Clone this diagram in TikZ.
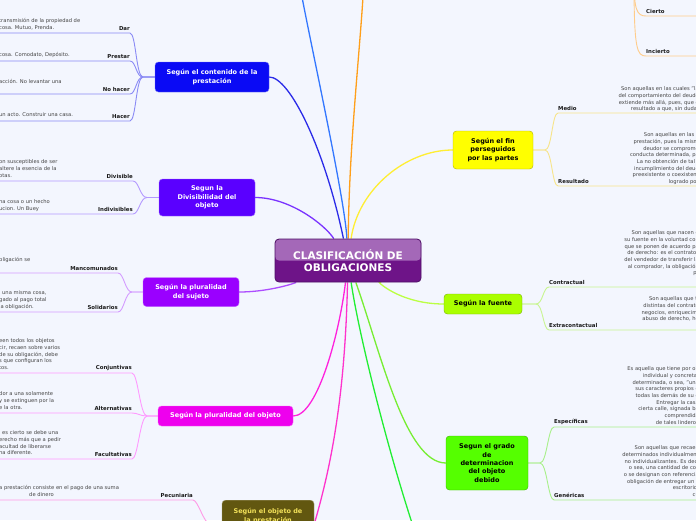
\documentclass[tikz,border=0pt]{standalone}
\usepackage{fontspec}
\setmainfont{DejaVu Sans}
\usetikzlibrary{backgrounds}

\definecolor{bgpage}{HTML}{F3F6FE}
\definecolor{notegray}{HTML}{444444}
\definecolor{labelink}{HTML}{1A1A1A}
\definecolor{cenLight}{HTML}{A468B8}
\definecolor{cenDark}{HTML}{6E1488}
\definecolor{cenEdge}{HTML}{4E1066}
\definecolor{contFill}{HTML}{0A0AF5}
\definecolor{contLine}{HTML}{2B2BE8}
\definecolor{contSub}{HTML}{8A8AF5}
\definecolor{divFill}{HTML}{5A00FF}
\definecolor{divLine}{HTML}{7A33FF}
\definecolor{divSub}{HTML}{B399FF}
\definecolor{sujFill}{HTML}{9A00FF}
\definecolor{sujLine}{HTML}{AD4DFF}
\definecolor{sujSub}{HTML}{D49CFF}
\definecolor{objFill}{HTML}{EE00EE}
\definecolor{objLine}{HTML}{FF22DD}
\definecolor{objSub}{HTML}{FF99FF}
\definecolor{presFill}{HTML}{625710}
\definecolor{presText}{HTML}{F3E25A}
\definecolor{presLine}{HTML}{FF33CC}
\definecolor{presSub}{HTML}{FF99E6}
\definecolor{finFill}{HTML}{FFFF00}
\definecolor{finLine}{HTML}{FFEE33}
\definecolor{finSub}{HTML}{F7E48A}
\definecolor{fntFill}{HTML}{AAFF00}
\definecolor{fntLine}{HTML}{BBFF44}
\definecolor{fntSub}{HTML}{C8F590}
\definecolor{grdFill}{HTML}{55FF00}
\definecolor{grdLine}{HTML}{77EE33}
\definecolor{grdSub}{HTML}{A8F08A}
\definecolor{topBlue}{HTML}{3377FF}
\definecolor{topOrange}{HTML}{FF9F1A}
\definecolor{orgSub}{HTML}{FFCC8A}
\definecolor{botGreen}{HTML}{22EE33}

\begin{document}
\begin{tikzpicture}[x=1pt, y=-1pt,
    every node/.style={inner sep=0pt},
    central/.style={draw=cenEdge, line width=0.8pt, fill=cenDark, rounded corners=4pt, align=center,
        minimum width=146pt, minimum height=43pt, text=white, font=\fontsize{10.5}{12}\selectfont\bfseries,
        path picture={\fill[cenLight] (path picture bounding box.north west) rectangle (path picture bounding box.east);}},
    topic/.style={rounded corners=3.5pt, align=center, text=white, font=\fontsize{6.5}{8.6}\selectfont\bfseries},
    leafL/.style={anchor=south east, align=right, inner xsep=0pt, inner ysep=1.8pt, text=labelink, font=\fontsize{5.4}{6.5}\selectfont\bfseries},
    leafR/.style={anchor=south west, align=left, inner xsep=0pt, inner ysep=1.8pt, text=labelink, font=\fontsize{5.4}{6.5}\selectfont\bfseries},
    noteL/.style={anchor=north west, align=left, text=notegray, font=\fontsize{5.2}{6.7}\selectfont},
    noteR/.style={anchor=north east, align=right, text=notegray, font=\fontsize{5.2}{6.7}\selectfont},
    mainline/.style={line width=1.3pt},
    subline/.style={line width=0.9pt}
]
\useasboundingbox (0,0) rectangle (696,520);

% centre
\node[central] (cen) at (348,260.5) {CLASIFICACIÓN DE\\OBLIGACIONES};

% topics on the left
\node[topic, fill=contFill, draw=contFill!60!white, minimum width=114pt, minimum height=30pt] (cont) at (212,77) {Según el contenido de la\\prestación};
\node[topic, fill=divFill, draw=divFill!60!white, minimum width=96pt, minimum height=37pt] (div) at (207,197.5) {Segun la\\Divisibilidad del\\objeto};
\node[topic, fill=sujFill, draw=sujFill!60!white, minimum width=96pt, minimum height=29pt] (suj) at (191,292) {Según la pluralidad\\del sujeto};
\node[topic, fill=objFill, draw=objFill!60!white, minimum width=135pt, minimum height=20pt] (obj) at (225.5,416) {Según la pluralidad del objeto};
\node[topic, fill=presFill, draw=presFill!60!white, text=presText, minimum width=92pt, minimum height=48pt, anchor=north] (pres) at (268,500) {Según el objeto de\\la prestación\\\mbox{}\\\mbox{}};

% topics on the right
\node[topic, fill=finFill, draw=finFill!70!black, text=black, minimum width=80pt, minimum height=38pt] (fin) at (493,150) {Según el fin\\perseguidos\\por las partes};
\node[topic, fill=fntFill, draw=fntFill!70!black, text=black, minimum width=78pt, minimum height=20pt] (fnt) at (483,304) {Según la fuente};
\node[topic, fill=grdFill, draw=grdFill!70!black, text=black, minimum width=82pt, minimum height=54pt, font=\fontsize{6.5}{8.3}\selectfont\bfseries] (grd) at (487,463) {Segun el grado\\de\\determinacion\\del objeto\\debido};

% branch points and loose ends
\coordinate (bCont) at (143,77);
\coordinate (bDiv) at (147,197.5);
\coordinate (bSuj) at (132,292);
\coordinate (bObj) at (147,416);
\coordinate (bPres) at (210,524);
\coordinate (bFin) at (545,150);
\coordinate (bFnt) at (536,304);
\coordinate (bGrd) at (540,463);
\coordinate (bOrg) at (634,-20);
\coordinate (upBlue) at (302,-3);
\coordinate (upOrange) at (363,-3);
\coordinate (downGreen) at (412,523);

% leaves: contenido
\node[leafL, text width=132pt] (dar) at (130,33) {Dar};
\node[leafL, text width=132pt] (prestar) at (130,61) {Prestar};
\node[leafL, text width=132pt] (nohacer) at (130,94) {No hacer};
\node[leafL, text width=132pt] (hacer) at (130,121) {Hacer};
\node[noteL] (darN) at (-1,18.5) {transmisión de la propiedad de\\cosa. Mutuo, Prenda.};
\node[noteL] (prestarN) at (-1,52.5) {cosa. Comodato, Depósito.};
\node[noteL] (nohacerN) at (-1,79.5) {acción. No levantar una};
\node[noteL] (hacerN) at (-1,112.5) {un acto. Construir una casa.};

% leaves: divisibilidad
\node[leafL, text width=135pt] (divisible) at (133,181) {Divisible};
\node[leafL, text width=135pt] (indivisibles) at (133,214) {Indivisibles};
\node[noteL] (divisibleN) at (-1,159.5) {on susceptibles de ser\\altere la esencia de la\\otas.};
\node[noteL] (indivisiblesN) at (-1,199.5) {na cosa o un hecho\\ucion. Un Buey};

% leaves: sujeto
\node[leafL, text width=120pt] (mancom) at (118,273) {Mancomunados};
\node[leafL, text width=120pt] (solid) at (118,312) {Solidarios};
\node[noteL] (mancomN) at (-1,257) {bligación se};
\node[noteL] (solidN) at (-1,290.5) {\hspace*{3pt}una misma cosa,\\gado al pago total\\la obligación.};

% leaves: objeto
\node[leafL, text width=134pt] (conj) at (132,373) {Conjuntivas};
\node[leafL, text width=134pt] (alter) at (132,413) {Alternativas};
\node[leafL, text width=134pt] (facul) at (132,459) {Facultativas};
\node[noteL] (conjN) at (-1,338.5) {een todos los objetos\\cir, recaen sobre varios\\de su obligación, debe\\s que configuran los\\tos.};
\node[noteL] (alterN) at (-1,391.5) {dor a una solamente\\y se extinguen por la\\e la otra.};
\node[noteL] (faculN) at (-1,430.5) {\hspace*{3pt}es cierto se debe una\\erecho más que a pedir\\acultad de liberarse\\na diferente.};

% leaves: objeto de la prestacion
\node[leafL, text width=195pt] (pecun) at (193,500) {Pecuniaria};
\node[noteL] (pecunN) at (-1,485.5) {a prestación consiste en el pago de una suma\\\hspace*{30pt}de dinero};

% leaves: fin
\node[leafR, text width=140pt] (medio) at (558,113) {Medio};
\node[leafR, text width=140pt] (resul) at (558,186) {Resultado};
\node[noteR] (medioN) at (699,86.5) {Son aquellas en las cuales "la\\del comportamiento del deudo\\extiende más allá, pues, que e\\resultado a que, sin duda,};
\node[noteR] (resulN) at (699,132.5) {Son aquellas en las c\\prestación, pues la mism\\deudor se comprome\\conducta determinada, pa\\La no obtención de tal r\\incumplimiento del deud\\preexistente o coexistent\\logrado por};

% leaves: fuente
\node[leafR, text width=150pt] (contr) at (549,287) {Contractual};
\node[leafR, text width=150pt] (extra) at (549,330) {Extracontactual};
\node[noteR] (contrN) at (699,230.5) {Son aquellas que nacen d\\su fuente en la voluntad con\\que se ponen de acuerdo pa\\de derecho: es el contrato"\\del vendedor de transferir la\\al comprador, la obligación\\pr};
\node[noteR] (extraN) at (699,296.5) {Son aquellas que ti\\distintas del contrato\\negocios, enriquecimi\\abuso de derecho, he};

% leaves: grado
\node[leafR, text width=145pt] (espec) at (554,427) {Específicas};
\node[leafR, text width=145pt] (gener) at (554,500) {Genéricas};
\node[noteR] (especN) at (699,366.5) {Es aquella que tiene por ob\\individual y concreta,\\determinada, o sea, "una\\sus caracteres propios q\\todas las demás de su e\\Entregar la casa\\cierta calle, signada ba\\comprendida\\de tales linderos};
\node[noteR] (generN) at (699,445.5) {Son aquellas que recaen\\determinados individualment\\no individualizantes. Es deci\\o sea, una cantidad de cos\\o se designan con referencia\\obligación de entregar un c\\escritorio,\\cu};

% leaves: upper right
\node[leafR, text width=60pt] (cierto) at (646,16) {Cierto};
\node[leafR, text width=60pt] (incierto) at (646,56) {Incierto};

\begin{pgfonlayer}{background}
\fill[bgpage] (0,0) rectangle (696,520);

% centre to topics
\draw[mainline, topBlue] (cen) .. controls (345,200) and (312,50) .. (upBlue);
\draw[mainline, topOrange] (cen) .. controls (349,150) and (359,60) .. (upOrange);
\draw[mainline, contLine] (cont.east) .. controls (290,77) and (325,150) .. (cen);
\draw[mainline, divLine] (div.east) .. controls (290,197.5) and (325,225) .. (cen);
\draw[mainline, sujLine] (suj.east) .. controls (265,292) and (290,285) .. (cen);
\draw[mainline, objLine] (obj.east) .. controls (318,416) and (340,330) .. (cen);
\draw[mainline, presLine] (cen) .. controls (345,400) and (330,470) .. (pres.east);
\draw[mainline, finLine] (cen) .. controls (358,190) and (405,150) .. (fin.west);
\draw[mainline, fntLine] (cen) .. controls (370,275) and (395,304) .. (fnt.west);
\draw[mainline, grdLine] (cen) .. controls (380,350) and (405,463) .. (grd.west);
\draw[mainline, botGreen] (cen) .. controls (358,330) and (385,440) .. (downGreen);

% topics to leaves
\draw[subline, contSub] (cont.west) -- (bCont) .. controls +(-7,0) and +(6,0) .. (dar.south east) -- (dar.south west);
\draw[subline, contSub] (cont.west) -- (bCont) .. controls +(-7,0) and +(6,0) .. (prestar.south east) -- (prestar.south west);
\draw[subline, contSub] (cont.west) -- (bCont) .. controls +(-7,0) and +(6,0) .. (nohacer.south east) -- (nohacer.south west);
\draw[subline, contSub] (cont.west) -- (bCont) .. controls +(-7,0) and +(6,0) .. (hacer.south east) -- (hacer.south west);

\draw[subline, divSub] (div.west) -- (bDiv) .. controls +(-7,0) and +(6,0) .. (divisible.south east) -- (divisible.south west);
\draw[subline, divSub] (div.west) -- (bDiv) .. controls +(-7,0) and +(6,0) .. (indivisibles.south east) -- (indivisibles.south west);

\draw[subline, sujSub] (suj.west) -- (bSuj) .. controls +(-7,0) and +(6,0) .. (mancom.south east) -- (mancom.south west);
\draw[subline, sujSub] (suj.west) -- (bSuj) .. controls +(-7,0) and +(6,0) .. (solid.south east) -- (solid.south west);

\draw[subline, objSub] (obj.west) -- (bObj) .. controls +(-7,0) and +(6,0) .. (conj.south east) -- (conj.south west);
\draw[subline, objSub] (obj.west) -- (bObj) .. controls +(-7,0) and +(6,0) .. (alter.south east) -- (alter.south west);
\draw[subline, objSub] (obj.west) -- (bObj) .. controls +(-7,0) and +(6,0) .. (facul.south east) -- (facul.south west);

\draw[subline, presSub] (pres.west) -- (bPres) .. controls +(-6,0) and +(5,0) .. (pecun.south east) -- (pecun.south west);

\draw[subline, finSub] (fin.east) -- (bFin) .. controls +(7,0) and +(-6,0) .. (medio.south west) -- (medio.south east);
\draw[subline, finSub] (fin.east) -- (bFin) .. controls +(7,0) and +(-6,0) .. (resul.south west) -- (resul.south east);

\draw[subline, fntSub] (fnt.east) -- (bFnt) .. controls +(7,0) and +(-6,0) .. (contr.south west) -- (contr.south east);
\draw[subline, fntSub] (fnt.east) -- (bFnt) .. controls +(7,0) and +(-6,0) .. (extra.south west) -- (extra.south east);

\draw[subline, grdSub] (grd.east) -- (bGrd) .. controls +(7,0) and +(-6,0) .. (espec.south west) -- (espec.south east);
\draw[subline, grdSub] (grd.east) -- (bGrd) .. controls +(7,0) and +(-6,0) .. (gener.south west) -- (gener.south east);

\draw[subline, orgSub] (bOrg) .. controls (634,10) and (637,16) .. (cierto.south west) -- (cierto.south east);
\draw[subline, orgSub] (bOrg) .. controls (634,50) and (637,56) .. (incierto.south west) -- (incierto.south east);
\end{pgfonlayer}
\end{tikzpicture}
\end{document}
